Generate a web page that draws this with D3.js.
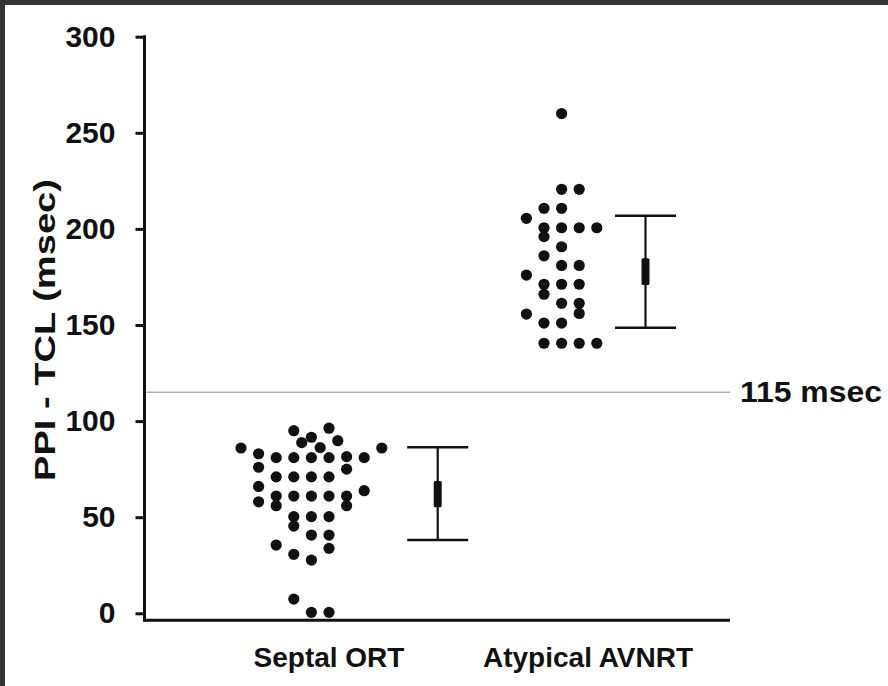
<!DOCTYPE html>
<html>
<head>
<meta charset="utf-8">
<script src="https://cdn.jsdelivr.net/npm/d3@7/dist/d3.min.js"></script>
<style>
  html, body { margin: 0; padding: 0; background: #333; }
  svg { display: block; }
</style>
</head>
<body>
<svg id="chart" width="888" height="686"></svg>
<script>
// ---------------- data ----------------
const categories = ["Septal ORT", "Atypical AVNRT"];

// Septal ORT: PPI - TCL values (msec) and their dot-plot column (jitter slot)
const septalValues = [
  86,
  83, 76, 66, 58,
  81, 71, 61, 56, 35.5,
  95, 81, 71, 61, 50.3, 45.4, 30.7, 7.4,
  91.6, 81, 71, 61, 50.3, 40.7, 27.7, 0.5,
  96.3, 81, 71, 61, 50.3, 40.7, 33.8, 0.5,
  81.5, 75, 61, 56,
  81, 63.8,
  86,
  88.8, 86.2, 89.8
];
const septalSlots = [
  -5,
  -4, -4, -4, -4,
  -3, -3, -3, -3, -3,
  -2, -2, -2, -2, -2, -2, -2, -2,
  -1, -1, -1, -1, -1, -1, -1, -1,
  0, 0, 0, 0, 0, 0, 0, 0,
  1, 1, 1, 1,
  2, 2,
  3,
  -1.55, -0.5, 0.5
];

// Atypical AVNRT values (msec) and dot-plot columns
const avnrtValues = [
  260,
  220.6, 220.6,
  210.7, 210.7,
  205.5,
  200.6, 200.6, 200.6, 200.6,
  196, 190.7, 186,
  181, 181,
  176,
  171.2, 171.2, 171.2,
  166, 161.3, 161.3,
  156, 155.7,
  151, 151,
  140.5, 140.5, 140.5, 140.5
];
const avnrtSlots = [
  -1.5,
  -1.5, -0.5,
  -2.5, -1.5,
  -3.5,
  -2.5, -1.5, -0.5, 0.5,
  -2.5, -1.5, -2.5,
  -1.5, -0.5,
  -3.5,
  -2.5, -1.5, -0.5,
  -2.5, -1.5, -0.5,
  -0.5, -3.5,
  -2.5, -1.5,
  -2.5, -1.5, -0.5, 0.5
];

// Summary bars per category: whiskers (mean ± SD) and thick box (mean ± SEM)
const summaryLow     = [38.1, 148.6];
const summaryHigh    = [86.4, 206.9];
const summaryBoxLow  = [55.2, 170.8];
const summaryBoxHigh = [68.8, 184.7];

const yTicks = [0, 50, 100, 150, 200, 250, 300];
const yLabel = "PPI - TCL (msec)";
const referenceValue = 115;
const referenceLabel = "115 msec";

// ---------------- layout ----------------
const W = 888, H = 686;
const svg = d3.select("#chart");
const FONT = "'Liberation Sans', Arial, Helvetica, sans-serif";

svg.append("rect").attr("x", 5).attr("y", 5).attr("width", W - 5).attr("height", H - 5).attr("fill", "#fff");

const axisX = 144.5;
const y = d3.scaleLinear().domain([0, 300]).range([613.3, 36.7]);
const xAxisY = y(0) + 7;
const xRight = 730;
const x = d3.scalePoint().domain(categories).range([329, 588]);
const slotW = 17.6;
const summaryOffset = [108.7, 57.5];

const ink = "#111";

// reference line
svg.append("line")
  .attr("x1", axisX + 2).attr("x2", xRight)
  .attr("y1", y(referenceValue)).attr("y2", y(referenceValue))
  .attr("stroke", "#b0b0b0").attr("stroke-width", 1.5);

svg.append("text")
  .attr("x", 740).attr("y", y(referenceValue) + 10)
  .attr("font-family", FONT).attr("font-weight", "bold").attr("font-size", 29)
  .attr("textLength", 142).attr("lengthAdjust", "spacingAndGlyphs")
  .attr("fill", ink).text(referenceLabel);

// y axis
const yAxis = d3.axisLeft(y).tickValues(yTicks).tickSize(9).tickPadding(20).tickSizeOuter(0);
const gy = svg.append("g").attr("transform", `translate(${axisX},0)`).call(yAxis);
gy.select(".domain").remove();
gy.selectAll(".tick line").attr("stroke", ink).attr("stroke-width", 3);
gy.selectAll(".tick text")
  .attr("font-family", FONT).attr("font-weight", "bold").attr("font-size", 30)
  .attr("fill", ink);

svg.append("line")
  .attr("x1", axisX).attr("x2", axisX)
  .attr("y1", y(300) - 1.5).attr("y2", xAxisY + 1.5)
  .attr("stroke", ink).attr("stroke-width", 3);

// x axis
svg.append("line")
  .attr("x1", axisX).attr("x2", xRight)
  .attr("y1", xAxisY).attr("y2", xAxisY)
  .attr("stroke", ink).attr("stroke-width", 3);

const catLabelLen = [152, 213];
svg.selectAll(".cat").data(categories).join("text")
  .attr("class", "cat")
  .attr("x", d => x(d)).attr("y", 667)
  .attr("text-anchor", "middle")
  .attr("font-family", FONT).attr("font-weight", "bold").attr("font-size", 28)
  .attr("fill", ink).text(d => d);

// y label
svg.append("text")
  .attr("transform", `translate(55,${330}) rotate(-90)`)
  .attr("text-anchor", "middle")
  .attr("font-family", FONT).attr("font-weight", "bold").attr("font-size", 30)
  .attr("textLength", 302).attr("lengthAdjust", "spacingAndGlyphs")
  .attr("fill", ink).text(yLabel);

// dots
const dotR = 5.6;
const groups = [
  { cat: categories[0], values: septalValues, slots: septalSlots },
  { cat: categories[1], values: avnrtValues, slots: avnrtSlots }
];
groups.forEach(g => {
  svg.append("g").selectAll("circle")
    .data(g.values.map((v, i) => ({ v, s: g.slots[i] })))
    .join("circle")
    .attr("cx", d => x(g.cat) + d.s * slotW)
    .attr("cy", d => y(d.v))
    .attr("r", dotR)
    .attr("fill", ink);
});

// summary bars
const capHalf = 30.5;
categories.forEach((c, i) => {
  const cx = x(c) + summaryOffset[i];
  const g = svg.append("g").attr("stroke", ink);
  g.append("line").attr("x1", cx).attr("x2", cx)
    .attr("y1", y(summaryHigh[i])).attr("y2", y(summaryLow[i]))
    .attr("stroke-width", 2.2);
  g.append("line").attr("x1", cx - capHalf).attr("x2", cx + capHalf)
    .attr("y1", y(summaryHigh[i])).attr("y2", y(summaryHigh[i]))
    .attr("stroke-width", 2.5);
  g.append("line").attr("x1", cx - capHalf).attr("x2", cx + capHalf)
    .attr("y1", y(summaryLow[i])).attr("y2", y(summaryLow[i]))
    .attr("stroke-width", 2.5);
  g.append("rect")
    .attr("x", cx - 4).attr("width", 8)
    .attr("y", y(summaryBoxHigh[i])).attr("height", y(summaryBoxLow[i]) - y(summaryBoxHigh[i]))
    .attr("rx", 1.5)
    .attr("fill", ink).attr("stroke", "none");
});
</script>
</body>
</html>
